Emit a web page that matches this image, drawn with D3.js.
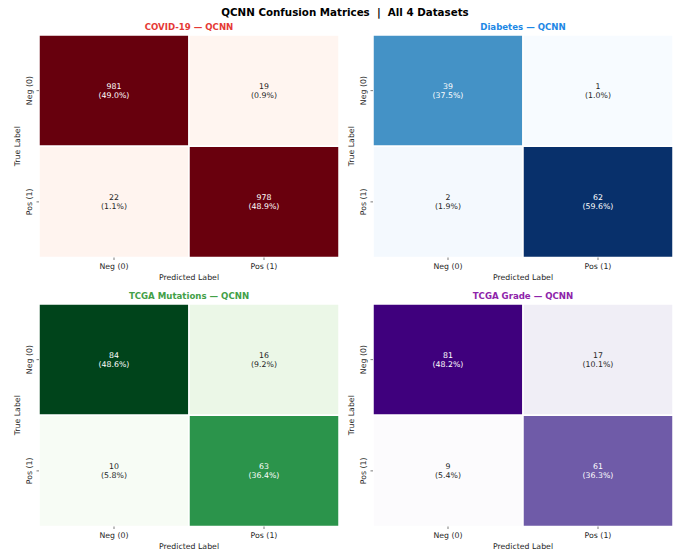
<!DOCTYPE html>
<html>
<head>
<meta charset="utf-8">
<script src="https://cdn.jsdelivr.net/npm/d3@7"></script>
<style>
  html, body { margin: 0; padding: 0; background: #ffffff; }
  svg { display: block; font-family: "DejaVu Sans", sans-serif; }
</style>
</head>
<body>
<svg id="chart" width="678" height="550"></svg>
<script>
// Class labels shared by every matrix
const classLabels = ["Neg (0)", "Pos (1)"];

// Confusion matrices, rows = true class, columns = predicted class
const covidMatrix = [[981, 19], [22, 978]];
const diabetesMatrix = [[39, 1], [2, 62]];
const mutationsMatrix = [[84, 16], [10, 63]];
const gradeMatrix = [[81, 17], [9, 61]];

const panelTitles = ["COVID-19 — QCNN", "Diabetes — QCNN", "TCGA Mutations — QCNN", "TCGA Grade — QCNN"];
const titleColors = ["#e53935", "#1e88e5", "#43a047", "#8e24aa"];
const matrices = [covidMatrix, diabetesMatrix, mutationsMatrix, gradeMatrix];
const colorMaps = [d3.interpolateReds, d3.interpolateBlues, d3.interpolateGreens, d3.interpolatePurples];

const svg = d3.select("#chart");
const W = 678;

svg.append("text")
  .attr("x", W / 2 + 6).attr("y", 15.5)
  .attr("text-anchor", "middle")
  .attr("font-size", 10.3).attr("font-weight", "bold")
  .attr("fill", "#000")
  .style("white-space", "pre")
  .text("QCNN Confusion Matrices  |  All 4 Datasets");

const colX = [39, 373];
const rowY = [35, 304];
const pw = 300, ph = 222.5;

function luminance(c) {
  const rgb = d3.rgb(c);
  const f = v => { v /= 255; return v <= 0.03928 ? v / 12.92 : Math.pow((v + 0.055) / 1.055, 2.4); };
  return 0.2126 * f(rgb.r) + 0.7152 * f(rgb.g) + 0.0722 * f(rgb.b);
}

matrices.forEach((m, i) => {
  const ox = colX[i % 2], oy = rowY[Math.floor(i / 2)];
  const g = svg.append("g").attr("transform", `translate(${ox},${oy})`);

  const x = d3.scaleBand().domain(classLabels).range([0, pw]);
  const y = d3.scaleBand().domain(classLabels).range([0, ph]);
  const flat = m.flat();
  const total = d3.sum(flat);
  const color = d3.scaleSequential(colorMaps[i]).domain(d3.extent(flat));

  const cells = [];
  m.forEach((row, r) => row.forEach((v, c) => cells.push({ r, c, v })));

  g.selectAll("rect.cell").data(cells).join("rect")
    .attr("class", "cell")
    .attr("x", d => x(classLabels[d.c]))
    .attr("y", d => y(classLabels[d.r]))
    .attr("width", x.bandwidth())
    .attr("height", y.bandwidth())
    .attr("fill", d => color(d.v))
    .attr("stroke", "#fff")
    .attr("stroke-width", 1.5);

  const labels = g.selectAll("text.val").data(cells).join("text")
    .attr("class", "val")
    .attr("text-anchor", "middle")
    .attr("font-size", 7.8)
    .attr("fill", d => luminance(color(d.v)) > 0.408 ? "#262626" : "#ffffff");
  labels.append("tspan")
    .attr("x", d => x(classLabels[d.c]) + x.bandwidth() / 2)
    .attr("y", d => y(classLabels[d.r]) + y.bandwidth() / 2 - 1.5)
    .text(d => d.v);
  labels.append("tspan")
    .attr("x", d => x(classLabels[d.c]) + x.bandwidth() / 2)
    .attr("y", d => y(classLabels[d.r]) + y.bandwidth() / 2 + 7.5)
    .text(d => `(${(d.v / total * 100).toFixed(1)}%)`);

  // axes
  const xAxis = g.append("g").attr("transform", `translate(0,${ph})`)
    .call(d3.axisBottom(x).tickSize(2.5).tickPadding(3));
  const yAxis = g.append("g")
    .call(d3.axisLeft(y).tickSize(2.5).tickPadding(3));
  [xAxis, yAxis].forEach(a => {
    a.select(".domain").remove();
    a.selectAll(".tick line").attr("stroke", "#444").attr("stroke-width", 0.7);
    a.selectAll(".tick text").attr("font-size", 7.8).attr("fill", "#262626")
      .attr("font-family", "DejaVu Sans, sans-serif");
  });
  xAxis.selectAll(".tick text").attr("dy", "0.71em");
  yAxis.selectAll(".tick text")
    .attr("text-anchor", "middle")
    .attr("x", 0).attr("dy", 0)
    .attr("transform", "translate(-7.5,0) rotate(-90)");

  g.append("text")
    .attr("x", pw / 2).attr("y", ph + 22)
    .attr("text-anchor", "middle")
    .attr("font-size", 7.8).attr("fill", "#262626")
    .text("Predicted Label");
  g.append("text")
    .attr("transform", `translate(-19.5,${ph / 2}) rotate(-90)`)
    .attr("text-anchor", "middle")
    .attr("font-size", 7.8).attr("fill", "#262626")
    .text("True Label");

  g.append("text")
    .attr("x", pw / 2).attr("y", -5)
    .attr("text-anchor", "middle")
    .attr("font-size", 8.6).attr("font-weight", "bold")
    .attr("fill", titleColors[i])
    .text(panelTitles[i]);
});
</script>
</body>
</html>
